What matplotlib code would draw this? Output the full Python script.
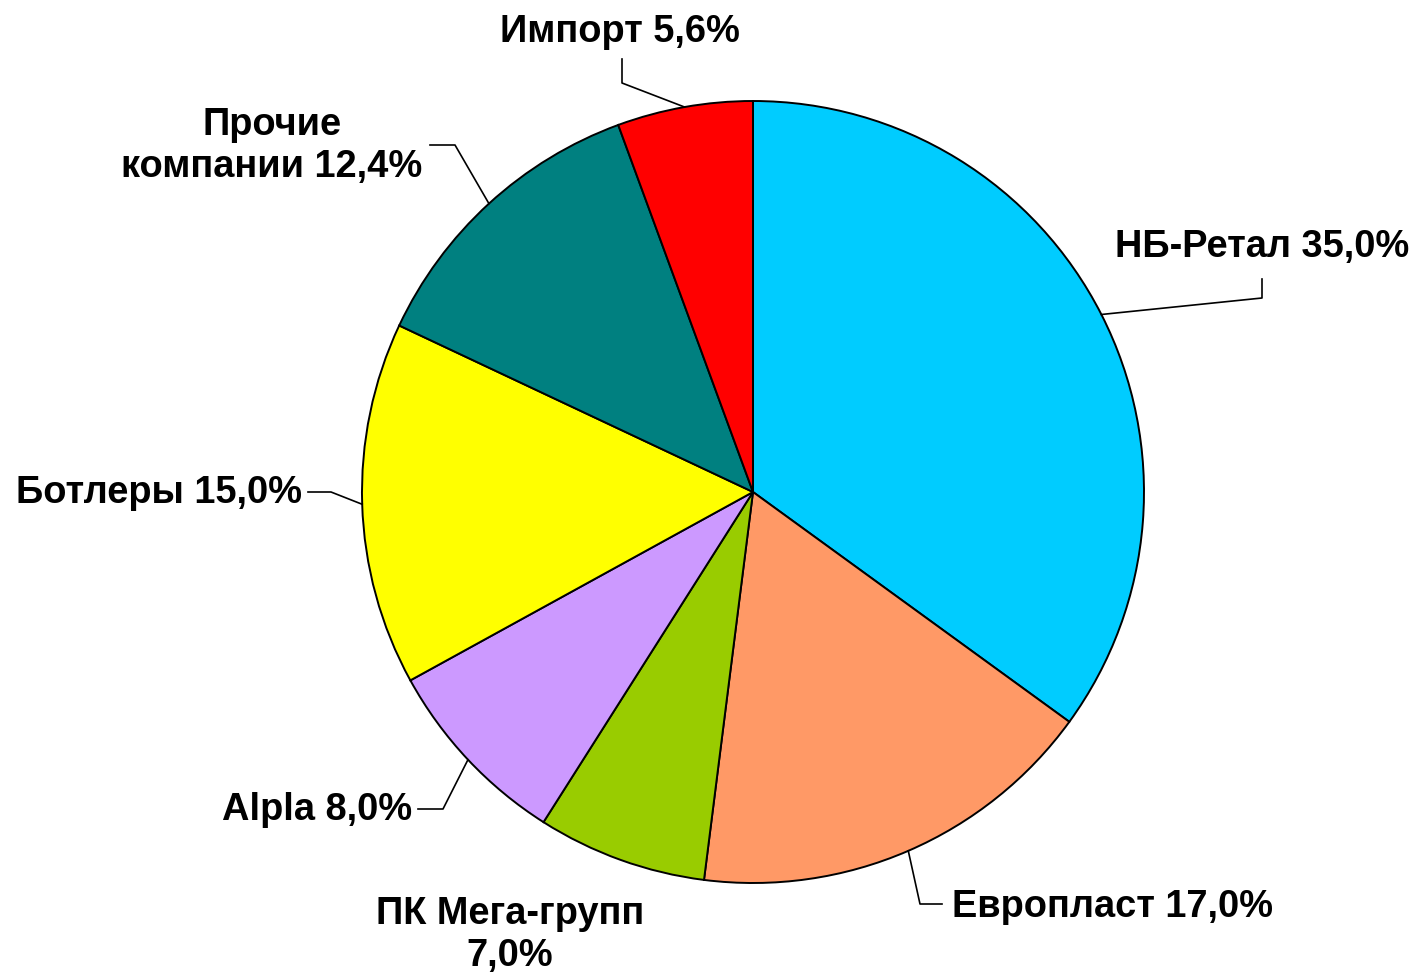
import numpy as np
import matplotlib.pyplot as plt

# Market shares, %
labels = ["НБ-Ретал", "Европласт", "ПК Мега-групп", "Alpla", "Ботлеры", "Прочие\nкомпании", "Импорт"]
shares = [35.0, 17.0, 7.0, 8.0, 15.0, 12.4, 5.6]
colors = ["#00CCFF", "#FF9966", "#99CC00", "#CC99FF", "#FFFF00", "#008080", "#FF0000"]

W, H = 1416, 978
CX, CY, R = 753, 493, 391


def px(x, y):
    # pixel position -> data coords (pie has radius 1 at origin)
    return (x - CX) / R, (CY - y) / R


fig = plt.figure(figsize=(W / 100, H / 100), dpi=100)
ax = fig.add_axes([0, 0, 1, 1])
wedges, _ = ax.pie(shares, colors=colors, startangle=90, counterclock=False,
                   radius=1, wedgeprops=dict(edgecolor="black", linewidth=1.4))
ax.set_xlim(px(0, 0)[0], px(W, 0)[0])
ax.set_ylim(px(0, H)[1], px(0, 0)[1])
ax.set_aspect("equal")
ax.axis("off")

font = dict(family=["Liberation Sans", "DejaVu Sans"], fontweight="bold", fontsize=27.4)

# label layout: text position, alignment, leader elbow points (pixels)
layout = [
    ((1262, 247), "center", [(1262, 299), (1262, 280)]),
    ((952, 907), "left", [(920, 905), (942, 905)]),
    ((510, 935), "center", None),
    ((412, 810), "right", [(443, 810), (418, 810)]),
    ((302, 493), "right", [(331, 493), (308, 493)]),
    ((272, 146), "center", [(455, 146), (430, 146)]),
    ((620, 32), "center", [(622, 84), (622, 60)]),
]

for w, lab, val, (tpos, ha, elbow) in zip(wedges, labels, shares, layout):
    text = f"{lab} {val:.1f}%".replace(".", ",")
    if lab == "ПК Мега-групп":
        text = f"{lab}\n{val:.1f}%".replace(".", ",")
    tx, ty = px(*tpos)
    ax.text(tx, ty, text, ha=ha, va="center", multialignment="center",
            linespacing=1.2, **font)
    if elbow:
        ang = np.deg2rad((w.theta1 + w.theta2) / 2)
        xs = [np.cos(ang)] + [px(*p)[0] for p in elbow]
        ys = [np.sin(ang)] + [px(*p)[1] for p in elbow]
        ax.plot(xs, ys, color="black", linewidth=1.2)

fig.savefig("out.png", dpi=100)
